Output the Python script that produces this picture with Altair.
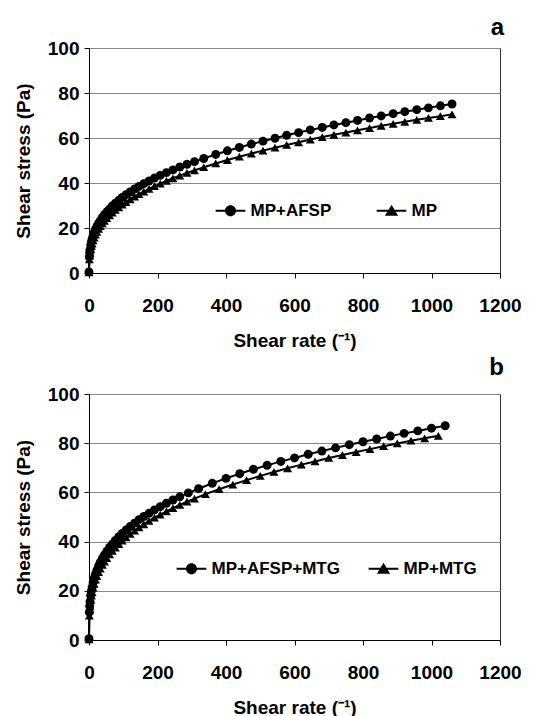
import altair as alt
import pandas as pd

FONT = "Liberation Sans"

# ---- data ----
x_a = [0, 1, 2, 3, 5, 7, 9, 12, 15, 19, 23, 28, 33, 39, 45, 52, 60, 68, 77, 87,
       97, 108, 120, 133, 146, 160, 175, 191, 208, 226, 245, 265, 286, 308, 335, 370, 404, 439, 474, 508,
       543, 577, 612, 646, 681, 715, 750, 784, 819, 853, 888, 922, 957, 991, 1026, 1060]
y_a_mp_afsp = [0.5, 7.2, 9.1, 10.4, 12.4, 13.8, 15.1, 16.6, 17.9, 19.4, 20.7, 22.1, 23.3, 24.7, 25.9, 27.2, 28.5, 29.8, 31.0, 32.3,
               33.6, 34.8, 36.0, 37.3, 38.5, 39.7, 40.9, 42.2, 43.4, 44.6, 45.8, 47.1, 48.3, 49.5, 50.9, 52.7, 54.3, 55.8, 57.3, 58.6,
               59.9, 61.2, 62.4, 63.6, 64.7, 65.8, 66.8, 67.8, 68.9, 69.8, 70.8, 71.7, 72.6, 73.4, 74.3, 75.1]
y_a_mp = [0.3, 6.1, 7.7, 8.9, 10.7, 12.0, 13.1, 14.5, 15.7, 17.1, 18.3, 19.6, 20.8, 22.0, 23.2, 24.4, 25.6, 26.8, 28.0, 29.2,
          30.4, 31.5, 32.7, 33.9, 35.1, 36.2, 37.4, 38.6, 39.7, 40.9, 42.1, 43.3, 44.5, 45.6, 47.0, 48.7, 50.2, 51.7, 53.1, 54.4,
          55.7, 56.9, 58.1, 59.3, 60.4, 61.4, 62.4, 63.4, 64.4, 65.4, 66.3, 67.2, 68.1, 68.9, 69.7, 70.5]

x_b_afsp_mtg = [0, 1, 2, 3, 5, 7, 9, 12, 15, 19, 23, 28, 33, 39, 45, 52, 60, 68, 77, 87,
                97, 108, 120, 133, 146, 160, 175, 191, 208, 226, 245, 265, 290,
                320, 360, 400, 440, 480, 520, 560, 600, 640, 680, 720, 760, 800, 840, 880, 920, 960, 1000, 1040]
y_b_afsp_mtg = [0.5, 11.3, 13.8, 15.6, 18.1, 20.0, 21.5, 23.4, 25.0, 26.8, 28.4, 30.1, 31.6, 33.2, 34.6, 36.1, 37.6, 39.0, 40.5, 42.0,
                43.3, 44.7, 46.1, 47.5, 48.9, 50.2, 51.5, 52.9, 54.2, 55.6, 56.9, 58.2, 59.8,
                61.5, 63.7, 65.7, 67.6, 69.4, 71.0, 72.6, 74.0, 75.5, 76.8, 78.1, 79.4, 80.6, 81.7, 82.9, 84.0, 85.0, 86.1, 87.1]
x_b_mtg = [0, 1, 2, 3, 5, 7, 9, 12, 15, 19, 23, 28, 33, 39, 45, 52, 60, 68, 77, 87,
           97, 108, 120, 133, 146, 160, 175, 191, 208, 226, 245, 265, 286, 308,
           340, 380, 420, 460, 500, 540, 580, 620, 660, 700, 740, 780, 820, 860, 900, 940, 980, 1020]
y_b_mtg = [0.3, 9.9, 12.3, 13.9, 16.3, 18.0, 19.5, 21.3, 22.8, 24.5, 26.0, 27.6, 29.0, 30.5, 31.9, 33.3, 34.8, 36.2, 37.6, 39.0,
           40.4, 41.7, 43.1, 44.5, 45.8, 47.0, 48.4, 49.7, 51.0, 52.3, 53.6, 54.9, 56.2, 57.5,
           59.3, 61.3, 63.2, 65.0, 66.7, 68.3, 69.8, 71.3, 72.6, 74.0, 75.2, 76.4, 77.6, 78.8, 79.9, 81.0, 82.0, 83.0]

names_a = ["MP+AFSP", "MP"]
names_b = ["MP+AFSP+MTG", "MP+MTG"]
x_ticks = [0, 200, 400, 600, 800, 1000, 1200]
y_ticks = [0, 20, 40, 60, 80, 100]


def frame(xs, ys, name):
    return pd.DataFrame({"x": xs, "y": ys, "series": name})


df_a = pd.concat([frame(x_a, y_a_mp, names_a[1]), frame(x_a, y_a_mp_afsp, names_a[0])])
df_b = pd.concat([frame(x_b_mtg, y_b_mtg, names_b[1]), frame(x_b_afsp_mtg, y_b_afsp_mtg, names_b[0])])

# legend glyphs (filled shapes): a thin bar with the marker in its middle
CIRCLE_PATH = "M-2.7,-0.18H2.7V0.18H-2.7Z M1,0A1,1 0 1,1 -1,0A1,1 0 1,1 1,0Z"
TRI_PATH = "M-2.7,-0.18H2.7V0.18H-2.7Z M0,-1.1L1.2,0.9L-1.2,0.9Z"


def panel(df, names, letter, legend_x, legend_y, col_pad, title_offset, height):
    x = alt.X("x:Q", scale=alt.Scale(domain=[0, 1200], nice=False),
              axis=alt.Axis(values=x_ticks, format="d", title="Shear rate (\u207b\u00b9)",
                            grid=False, labelFlush=False))
    y = alt.Y("y:Q", scale=alt.Scale(domain=[0, 100], nice=False),
              axis=alt.Axis(values=y_ticks, format="d", title="Shear stress (Pa)", grid=True))
    legend = alt.Legend(
        title=None, orient="none", legendX=legend_x, legendY=legend_y, direction="horizontal",
        labelFont=FONT, labelFontSize=17, labelFontWeight="bold", labelColor="black",
        symbolSize=121, labelOffset=11.5, columnPadding=col_pad, padding=0,
        symbolFillColor="black", symbolStrokeColor="black", symbolStrokeWidth=0, symbolOpacity=1,
    )
    line = alt.Chart(df).mark_line(color="black", strokeWidth=2).encode(
        x=x, y=y, detail="series:N")
    pts = alt.Chart(df).mark_point(filled=True, color="black", opacity=1, size=80).encode(
        x=x, y=y,
        shape=alt.Shape("series:N", scale=alt.Scale(domain=names, range=["circle", "triangle-up"]),
                        legend=None))
    leg = alt.Chart(df).transform_filter("false").mark_point(
        filled=True, color="black", opacity=1, size=121
    ).encode(
        x=x, y=y,
        shape=alt.Shape("series:N", scale=alt.Scale(domain=names, range=[CIRCLE_PATH, TRI_PATH]),
                        legend=legend))
    return alt.layer(line, pts, leg).resolve_scale(shape="independent").properties(
        width=411, height=height,
        title=alt.TitleParams(letter, anchor="end", offset=title_offset, dx=4, frame="group"))


pa = panel(df_a, names_a, "a", 133, 154, 44, -1, 225)
pb = panel(df_b, names_b, "b", 94, 166, 28, 5, 246)

chart = alt.vconcat(pa, pb, spacing=4).resolve_scale(shape="independent").properties(
    padding={"left": 5, "top": 7, "right": 5, "bottom": 0}
).configure_view(stroke="#333", strokeWidth=1).configure_axis(
    labelFont=FONT, labelFontSize=19, labelFontWeight="bold", labelColor="black",
    titleFont=FONT, titleFontSize=19, titleFontWeight="bold", titleColor="black",
    domainColor="black", tickColor="black", tickSize=5, gridColor="#888", gridWidth=1
).configure_axisX(labelPadding=18, titlePadding=16).configure_axisY(
    labelPadding=5, titlePadding=14
).configure_title(font=FONT, fontSize=24, fontWeight="bold", color="black")

chart.save("out.html", embed_options={"renderer": "svg", "actions": False})
